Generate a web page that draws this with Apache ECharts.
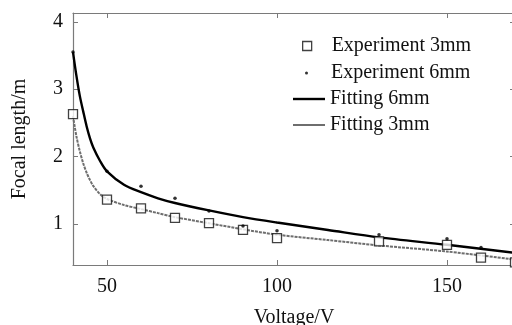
<!DOCTYPE html>
<html>
<head>
<meta charset="utf-8">
<script src="https://cdn.jsdelivr.net/npm/echarts@6/dist/echarts.min.js"></script>
<style>
  html, body { margin: 0; padding: 0; background: #fff; }
  #chart { width: 512px; height: 325px; }
</style>
</head>
<body>
<div id="chart"></div>
<script>
// measured points
const exp3X = [40, 50, 60, 70, 80, 90, 100, 130, 150, 160, 170];
const exp3Y = [2.63, 1.36, 1.23, 1.09, 1.01, 0.91, 0.79, 0.74, 0.69, 0.50, 0.43];
const exp6X = [40, 50, 60, 70, 80, 90, 100, 130, 150, 160];
const exp6Y = [3.55, 1.78, 1.56, 1.38, 1.19, 0.97, 0.90, 0.84, 0.78, 0.65];

// fitted curves
const fitX = [40, 41, 42, 43, 44, 45, 46, 48, 50, 55, 60, 65, 70, 80, 90, 100, 115, 130, 150, 170];
const fit6Y = [3.55, 3.2, 2.9, 2.67, 2.45, 2.27, 2.13, 1.93, 1.78, 1.58, 1.47, 1.38, 1.31, 1.20, 1.10, 1.02, 0.91, 0.80, 0.69, 0.57];
const fit3Y = [2.60, 2.30, 2.08, 1.90, 1.76, 1.65, 1.56, 1.44, 1.37, 1.28, 1.22, 1.16, 1.10, 1.01, 0.92, 0.84, 0.76, 0.68, 0.59, 0.47];

const xTicks = [50, 100, 150];
const yTicks = [1, 2, 3, 4];

const pairs = (xs, ys) => xs.map((x, i) => [x, ys[i]]);

const font = 'Liberation Serif';
const axisColor = '#7a7a7a';
const grayLine = '#6e6e6e';
const textStyle = { fontFamily: font, fontSize: 20, color: '#111' };

// one legend per row so each icon can have its own size
function legendAt(item, left, top, w, h, textPad) {
  return {
    data: [item],
    left: left,
    top: top,
    itemWidth: w,
    itemHeight: h,
    itemGap: 0,
    padding: 0,
    symbolKeepAspect: false,
    textStyle: Object.assign({ padding: [0, 0, 0, textPad] }, textStyle),
    selectedMode: false
  };
}

const chart = echarts.init(document.getElementById('chart'), null, { renderer: 'canvas' });

chart.setOption({
  animation: false,
  backgroundColor: '#fff',
  grid: { left: 73, top: 13, right: -3, bottom: 60, outerBoundsMode: 'none', containLabel: false },
  legend: [
    legendAt({ name: 'Experiment 3mm', icon: 'rect', itemStyle: { color: '#fff', borderColor: '#111', borderWidth: 1.3 } }, 302, 36, 9, 9, 15),
    legendAt({ name: 'Experiment 6mm', icon: 'circle', itemStyle: { color: '#000' } }, 305, 63, 3, 3, 18),
    legendAt({ name: 'Fitting 6mm', icon: 'rect', itemStyle: { color: '#000', borderWidth: 0 } }, 293, 89, 32, 2.4, 0),
    legendAt({ name: 'Fitting 3mm', icon: 'rect', itemStyle: { color: grayLine, borderWidth: 0 } }, 293, 115, 32, 2, 0)
  ],
  xAxis: [
    {
      type: 'value',
      min: 40,
      max: 170,
      name: 'Voltage/V',
      nameLocation: 'middle',
      nameGap: 43,
      nameTextStyle: textStyle,
      axisLine: { lineStyle: { color: axisColor, width: 1.2 } },
      axisTick: { inside: true, length: 5, customValues: xTicks, lineStyle: { color: axisColor } },
      axisLabel: { customValues: xTicks, margin: 12, fontFamily: font, fontSize: 20, color: '#111' },
      splitLine: { show: false }
    },
    {
      type: 'value',
      position: 'top',
      min: 40,
      max: 170,
      axisLine: { onZero: false, lineStyle: { color: axisColor, width: 1.2 } },
      axisTick: { inside: true, length: 5, customValues: xTicks, lineStyle: { color: axisColor } },
      axisLabel: { show: false },
      splitLine: { show: false }
    }
  ],
  yAxis: [
    {
      type: 'value',
      min: 0.39,
      max: 4.13,
      name: 'Focal length/m',
      nameLocation: 'middle',
      nameGap: 43,
      nameTextStyle: textStyle,
      axisLine: { show: true, onZero: false, lineStyle: { color: axisColor, width: 1.2 } },
      axisTick: { show: true, inside: true, length: 5, customValues: yTicks, lineStyle: { color: axisColor } },
      axisLabel: { customValues: yTicks, margin: 10, fontFamily: font, fontSize: 20, color: '#111' },
      splitLine: { show: false }
    },
    {
      type: 'value',
      position: 'right',
      min: 0.39,
      max: 4.13,
      axisLine: { show: true, onZero: false, lineStyle: { color: axisColor, width: 1.2 } },
      axisTick: { show: true, inside: true, length: 5, customValues: yTicks, lineStyle: { color: axisColor } },
      axisLabel: { show: false },
      splitLine: { show: false }
    }
  ],
  series: [
    {
      name: 'Fitting 3mm',
      type: 'line',
      data: pairs(fitX, fit3Y),
      smooth: 0.3,
      symbol: 'none',
      lineStyle: { color: grayLine, width: 2, type: [3, 1] },
      itemStyle: { color: grayLine },
      z: 2
    },
    {
      name: 'Fitting 6mm',
      type: 'line',
      data: pairs(fitX, fit6Y),
      smooth: 0.3,
      symbol: 'none',
      lineStyle: { color: '#000', width: 2.4 },
      itemStyle: { color: '#000' },
      z: 3
    },
    {
      name: 'Experiment 3mm',
      type: 'scatter',
      data: pairs(exp3X, exp3Y),
      symbol: 'rect',
      symbolSize: 9,
      itemStyle: { color: '#fff', borderColor: '#111', borderWidth: 1.3 },
      z: 5
    },
    {
      name: 'Experiment 6mm',
      type: 'scatter',
      data: pairs(exp6X, exp6Y),
      symbol: 'circle',
      symbolSize: 3.5,
      itemStyle: { color: '#000' },
      z: 6
    }
  ]
});
</script>
</body>
</html>
